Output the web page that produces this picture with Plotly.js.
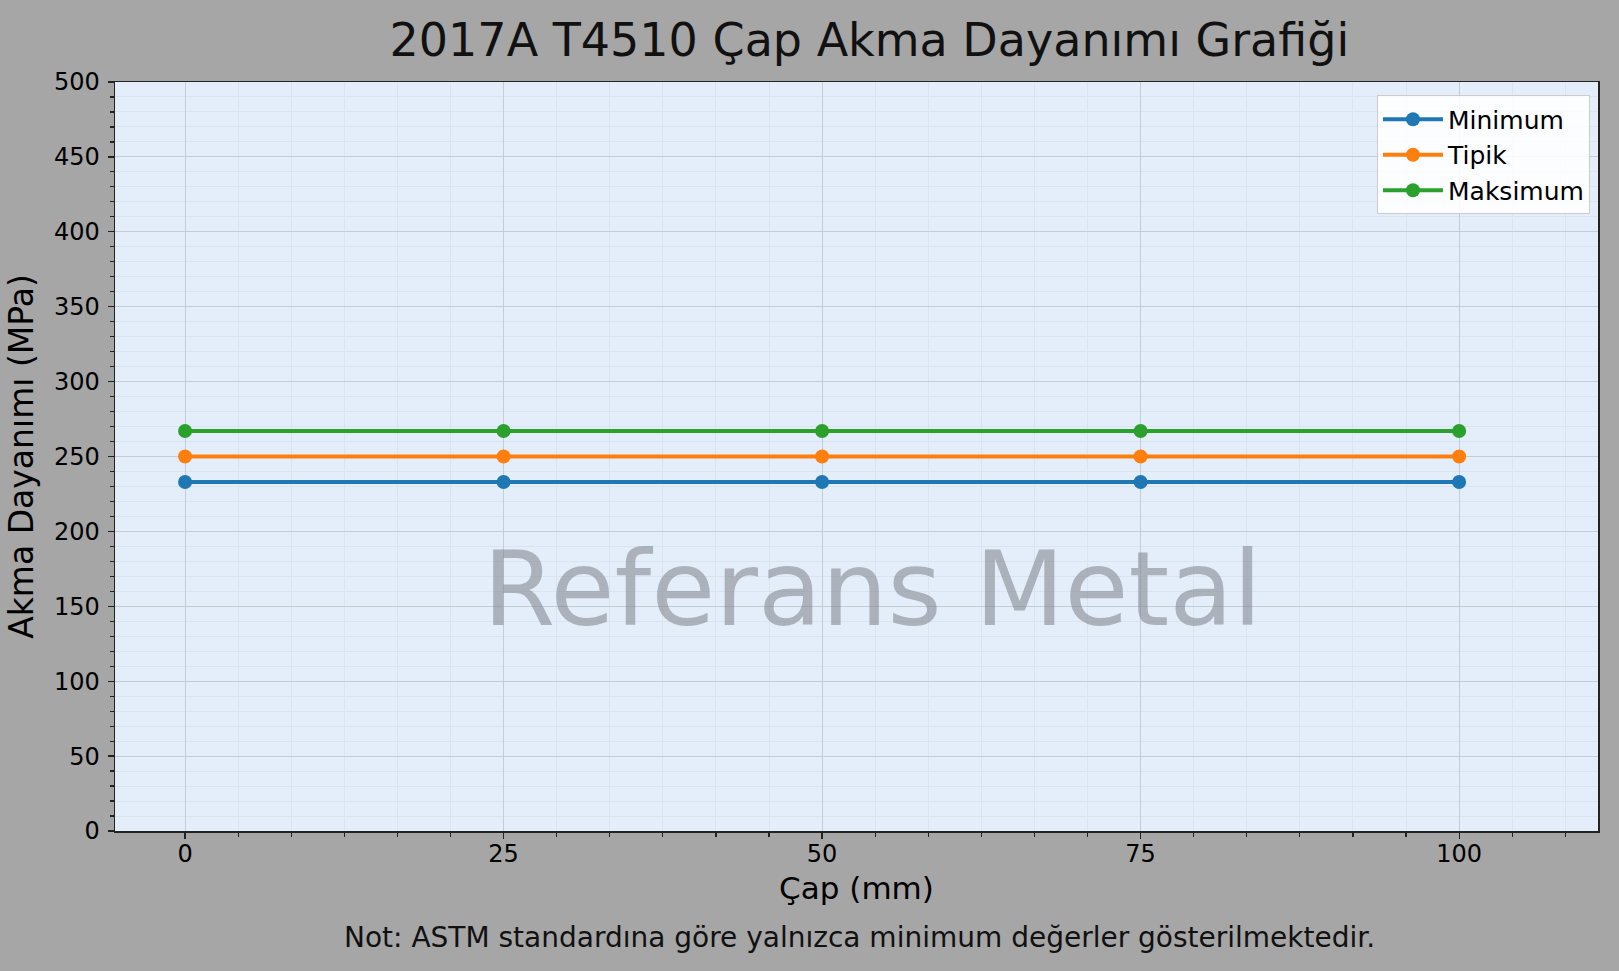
<!DOCTYPE html>
<html>
<head>
<meta charset="utf-8">
<script src="https://cdn.plot.ly/plotly-3.0.1.min.js"></script>
<style>
  html, body { margin: 0; padding: 0; background: #a6a6a6; }
  #chart { width: 1619px; height: 971px; }
</style>
</head>
<body>
<div id="chart"></div>
<script>
// diameters (mm) and yield strength values (MPa)
var cap = [0, 25, 50, 75, 100];
var minimum = [233, 233, 233, 233, 233];
var tipik = [250, 250, 250, 250, 250];
var maksimum = [267, 267, 267, 267, 267];

var xTicks = [0, 25, 50, 75, 100];
var seriesNames = ["Minimum", "Tipik", "Maksimum"];
var colors = ["#1f77b4", "#ff7f0e", "#2ca02c"];

// minor x ticks: six per major step, starting at 0
var xMinor = [];
for (var k = 0; k <= 26; k++) xMinor.push(k * 25 / 6);

var font = "DejaVu Sans, Verdana, sans-serif";

function line(y, i) {
    return {
        x: cap,
        y: y,
        name: seriesNames[i],
        type: 'scatter',
        mode: 'lines+markers',
        line: {color: colors[i], width: 4},
        marker: {color: colors[i], size: 14}
    };
}

var data = [line(minimum, 0), line(tipik, 1), line(maksimum, 2)];

var layout = {
    width: 1619,
    height: 971,
    paper_bgcolor: '#a6a6a6',
    plot_bgcolor: '#e4eefa',
    margin: {l: 115, r: 21, t: 82, b: 140},
    font: {family: font, color: '#000', size: 24},
    title: {
        text: '2017A T4510 Çap Akma Dayanımı Grafiği',
        font: {family: font, size: 46, color: '#111'},
        x: 0.537, xanchor: 'center',
        y: 1 - 40 / 971, yanchor: 'middle', yref: 'container'
    },
    xaxis: {
        range: [-5.5, 110.9],
        tickvals: xTicks,
        ticks: 'outside', ticklen: 6, tickwidth: 1.2, tickcolor: '#222',
        ticklabelstandoff: -5,
        showline: true, mirror: true, linecolor: '#222', linewidth: 1.5,
        gridcolor: '#c6ccd4', gridwidth: 1,
        zeroline: false,
        tickfont: {size: 24},
        minor: {tickmode: 'array', tickvals: xMinor, ticks: 'outside', ticklen: 4, tickcolor: '#222',
                showgrid: true, gridcolor: '#dae4f0', gridwidth: 1},
        title: {text: 'Çap (mm)', font: {size: 31}, standoff: 10}
    },
    yaxis: {
        range: [0, 500],
        dtick: 50,
        ticks: 'outside', ticklen: 6, tickwidth: 1.2, tickcolor: '#222',
        ticklabelstandoff: 3,
        showline: true, mirror: true, linecolor: '#222', linewidth: 1.5,
        gridcolor: '#c6ccd4', gridwidth: 1,
        zeroline: false,
        tickfont: {size: 24},
        minor: {dtick: 10, ticks: 'outside', ticklen: 4, tickcolor: '#222',
                showgrid: true, gridcolor: '#dae4f0', gridwidth: 1},
        title: {text: 'Akma Dayanımı (MPa)', font: {size: 33}, standoff: 10}
    },
    legend: {
        x: 0.9946, xanchor: 'right',
        y: 0.982, yanchor: 'top',
        bgcolor: 'rgba(255,255,255,0.85)',
        bordercolor: '#cccccc', borderwidth: 1,
        font: {size: 25},
        itemwidth: 60
    },
    annotations: [
        {
            text: 'Referans Metal',
            xref: 'paper', yref: 'paper',
            x: 0.511, y: 0.323, xanchor: 'center', yanchor: 'middle',
            showarrow: false,
            font: {family: font, size: 104, color: 'rgba(115,118,125,0.5)'}
        },
        {
            text: 'Not: ASTM standardına göre yalnızca minimum değerler gösterilmektedir.',
            xref: 'paper', yref: 'paper',
            x: 0.502, y: -0.142, xanchor: 'center', yanchor: 'middle',
            showarrow: false,
            font: {family: font, size: 28, color: '#111'}
        }
    ],
    showlegend: true
};

Plotly.newPlot('chart', data, layout, {displayModeBar: false, staticPlot: true});
</script>
</body>
</html>
